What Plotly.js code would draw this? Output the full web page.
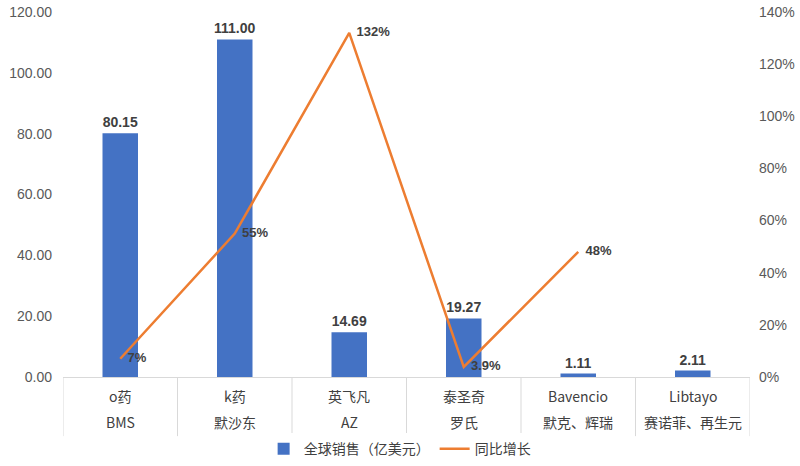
<!DOCTYPE html>
<html>
<head>
<meta charset="utf-8">
<script src="https://cdn.plot.ly/plotly-3.0.1.min.js"></script>
<style>
  html, body { margin: 0; padding: 0; background: #fff; }
  #plot { width: 800px; height: 466px; }
</style>
</head>
<body>
<div id="plot"></div>
<script>
const drugs = ['o药', 'k药', '英飞凡', '泰圣奇', 'Bavencio', 'Libtayo'];
const companies = ['BMS', '默沙东', 'AZ', '罗氏', '默克、辉瑞', '赛诺菲、再生元'];
const sales = [80.15, 111.00, 14.69, 19.27, 1.11, 2.11];
const growthDrugs = ['o药', 'k药', '英飞凡', '泰圣奇', 'Bavencio'];
const growth = [7, 55, 132, 3.9, 48];
const growthLabels = ['7%', '55%', '132%', '3.9%', '48%'];

const FONT = 'Liberation Sans, "Noto Sans CJK SC", Arial, sans-serif';
const CJK = '"Noto Sans CJK SC", Liberation Sans, sans-serif';

const salesTrace = {
  type: 'bar',
  name: '全球销售（亿美元）',
  x: drugs,
  y: sales,
  width: 0.31,
  marker: { color: '#4472C4' },
  text: sales.map((v) => v.toFixed(2)),
  textposition: 'outside',
  constraintext: 'none',
  cliponaxis: false,
  textfont: { family: FONT, size: 14, color: '#404040', weight: 'bold' },
  hoverinfo: 'skip',
};

const growthTrace = {
  type: 'scatter',
  mode: 'lines+text',
  name: '同比增长',
  x: growthDrugs,
  y: growth,
  yaxis: 'y2',
  line: { color: '#ED7D31', width: 2.5 },
  text: growthLabels,
  texttemplate: '  %{text}',
  textposition: 'middle right',
  cliponaxis: false,
  textfont: { family: FONT, size: 13, color: '#404040', weight: 'bold' },
  hoverinfo: 'skip',
};

// category labels (two rows) and separators under the axis
const annotations = [];
drugs.forEach((d, i) => {
  annotations.push({
    x: d, y: -0.052, xref: 'x', yref: 'paper', text: d, showarrow: false,
    font: { family: CJK, size: 14, color: '#404040' }, yanchor: 'middle',
  });
  annotations.push({
    x: d, y: -0.123, xref: 'x', yref: 'paper', text: companies[i], showarrow: false,
    font: { family: CJK, size: 14, color: '#404040' }, yanchor: 'middle',
  });
});

const shapes = [];
for (let i = 0; i <= drugs.length; i++) {
  shapes.push({
    type: 'line', xref: 'x', yref: 'paper',
    x0: i - 0.5, x1: i - 0.5, y0: 0, y1: -0.162,
    line: { color: '#D9D9D9', width: 1 },
  });
}

const layout = {
  width: 800,
  height: 466,
  margin: { l: 63, r: 50, t: 12, b: 89, autoexpand: false },
  paper_bgcolor: '#fff',
  plot_bgcolor: '#fff',
  font: { family: FONT, color: '#595959' },
  showlegend: true,
  legend: {
    orientation: 'h', x: 0.49, xanchor: 'center',
    yref: 'container', y: 0.036, yanchor: 'middle',
    font: { family: CJK, size: 14, color: '#404040' },
  },
  xaxis: {
    type: 'category',
    range: [-0.5, 5.5],
    showticklabels: false,
    showline: true,
    linecolor: '#D9D9D9',
    linewidth: 1,
    showgrid: false,
    ticks: '',
    fixedrange: true,
  },
  yaxis: {
    range: [0, 120],
    dtick: 20,
    tickformat: '.2f',
    showgrid: false,
    zeroline: false,
    ticklabelstandoff: 10,
    tickfont: { family: FONT, size: 14, color: '#595959' },
    fixedrange: true,
  },
  yaxis2: {
    range: [0, 140],
    dtick: 20,
    ticksuffix: '%',
    overlaying: 'y',
    side: 'right',
    showgrid: false,
    zeroline: false,
    ticklabelstandoff: 8,
    tickfont: { family: FONT, size: 14, color: '#595959' },
    fixedrange: true,
  },
  annotations,
  shapes,
};

Plotly.newPlot('plot', [salesTrace, growthTrace], layout, { displayModeBar: false, staticPlot: true });
</script>
</body>
</html>
